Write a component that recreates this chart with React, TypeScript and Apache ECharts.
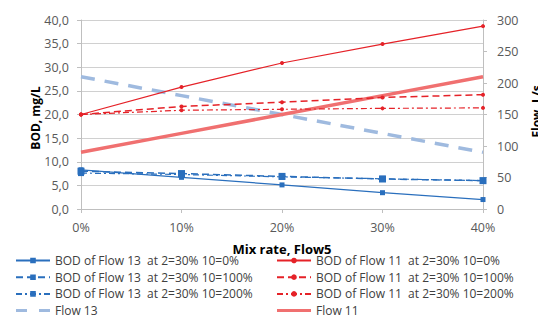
import React, { useEffect, useRef } from "react";
import * as echarts from "echarts";

const categories = ["0%", "10%", "20%", "30%", "40%"];
const bod13_0 = [8.3, 6.7, 5.1, 3.45, 2.0];
const bod13_100 = [8.0, 7.5, 6.9, 6.35, 6.0];
const bod13_200 = [7.6, 7.3, 6.8, 6.4, 6.0];
const flow13 = [210, 180, 150, 120, 90];
const bod11_0 = [20.0, 25.8, 30.9, 34.9, 38.7];
const bod11_100 = [20.0, 21.7, 22.6, 23.6, 24.2];
const bod11_200 = [20.0, 20.9, 21.1, 21.3, 21.4];
const flow11 = [90, 120, 150, 180, 210];

const leftAxisName = "BOD, mg/L";
const rightAxisName = "Flow, L/s";
const xAxisName = "Mix rate, Flow5";

const names = [
  "BOD of Flow 13  at 2=30% 10=0%",
  "BOD of Flow 13  at 2=30% 10=100%",
  "BOD of Flow 13  at 2=30% 10=200%",
  "Flow 13",
  "BOD of Flow 11  at 2=30% 10=0%",
  "BOD of Flow 11  at 2=30% 10=100%",
  "BOD of Flow 11  at 2=30% 10=200%",
  "Flow 11",
];

const BLUE = "#2a6fbd";
const RED = "#e52228";
const LBLUE = "#9fbadf";
const LRED = "#f07070";
const FONT = "'Open Sans', 'Noto Sans', sans-serif";

export default function App() {
  const ref = useRef<HTMLDivElement>(null);
  useEffect(() => {
    document.body.style.margin = "0";
    const chart = echarts.init(ref.current!, null, { renderer: "svg" });
    const legendCommon = {
      orient: "vertical" as const,
      itemWidth: 34,
      itemHeight: 7,
      itemGap: 3.7,
      padding: 0,
      textStyle: { fontFamily: FONT, fontSize: 12, color: "#404040", lineHeight: 13 },
      top: 254,
    };
    chart.setOption({
      animation: false,
      textStyle: { fontFamily: FONT },
      grid: { left: 81, right: 55, top: 20, bottom: 120, containLabel: false, outerBoundsMode: "none" },
      graphic: [
        {
          type: "text",
          x: 35,
          y: 118,
          rotation: Math.PI / 2,
          style: {
            text: leftAxisName,
            fontFamily: FONT,
            fontSize: 12,
            fontWeight: "bold",
            fill: "#000",
            align: "center",
            verticalAlign: "middle",
          },
        },
      ],
      legend: [
        {
          ...legendCommon,
          left: 15,
          data: [
            names[0],
            names[1],
            names[2],
            { name: names[3], icon: "path://M0,0H11V3H0Z M23,0H34V3H23Z" },
          ],
        },
        {
          ...legendCommon,
          left: 276,
          data: [
            names[4],
            names[5],
            names[6],
            { name: names[7], icon: "path://M0,0H34V3H0Z" },
          ],
        },
      ],
      xAxis: {
        type: "category",
        data: categories,
        boundaryGap: false,
        name: xAxisName,
        nameLocation: "middle",
        nameGap: 33,
        nameTextStyle: { fontWeight: "bold", fontSize: 13, color: "#000", fontFamily: FONT },
        axisLine: { lineStyle: { color: "#bfbfbf" } },
        axisTick: { show: true, length: 4, lineStyle: { color: "#bfbfbf" } },
        axisLabel: { color: "#595959", fontSize: 12.5, margin: 12, fontFamily: FONT },
      },
      yAxis: [
        {
          type: "value",
          min: 0,
          max: 40,
          interval: 5,
          axisLine: { show: true, lineStyle: { color: "#bfbfbf" } },
          axisTick: { show: true, length: 4, lineStyle: { color: "#bfbfbf" } },
          axisLabel: {
            color: "#595959",
            fontSize: 12.5,
            margin: 12,
            fontFamily: FONT,
            formatter: (v: number) => v.toFixed(1).replace(".", ","),
          },
          splitLine: { lineStyle: { color: "#d0d0d0" } },
        },
        {
          type: "value",
          min: 0,
          max: 300,
          interval: 50,
          position: "right",
          name: rightAxisName,
          nameLocation: "middle",
          nameGap: 47,
          nameTextStyle: { fontWeight: "bold", fontSize: 12, color: "#000", fontFamily: FONT, padding: [0, 0, 0, 6] },
          axisLine: { show: true, lineStyle: { color: "#bfbfbf" } },
          axisTick: { show: true, length: 4, lineStyle: { color: "#bfbfbf" } },
          axisLabel: { color: "#595959", fontSize: 12.5, margin: 14, fontFamily: FONT },
          splitLine: { show: false },
        },
      ],
      series: [
        {
          name: names[0], type: "line", data: bod13_0, yAxisIndex: 0,
          symbol: "rect", symbolSize: 5, z: 5,
          lineStyle: { color: BLUE, width: 1.2 }, itemStyle: { color: BLUE },
        },
        {
          name: names[1], type: "line", data: bod13_100, yAxisIndex: 0,
          symbol: "rect", symbolSize: 7, z: 5,
          lineStyle: { color: BLUE, width: 1.5, type: [7, 4] }, itemStyle: { color: BLUE },
        },
        {
          name: names[2], type: "line", data: bod13_200, yAxisIndex: 0,
          symbol: "rect", symbolSize: 6, z: 5,
          lineStyle: { color: BLUE, width: 1.2, type: [6, 3, 2, 3] }, itemStyle: { color: BLUE },
        },
        {
          name: names[3], type: "line", data: flow13, yAxisIndex: 1,
          symbol: "none", z: 3,
          lineStyle: { color: LBLUE, width: 3.5, type: [14, 10] }, itemStyle: { color: LBLUE },
        },
        {
          name: names[4], type: "line", data: bod11_0, yAxisIndex: 0,
          symbol: "circle", symbolSize: 4, z: 5,
          lineStyle: { color: RED, width: 1.2 }, itemStyle: { color: RED },
        },
        {
          name: names[5], type: "line", data: bod11_100, yAxisIndex: 0,
          symbol: "circle", symbolSize: 4, z: 5,
          lineStyle: { color: RED, width: 1.5, type: [7, 4] }, itemStyle: { color: RED },
        },
        {
          name: names[6], type: "line", data: bod11_200, yAxisIndex: 0,
          symbol: "circle", symbolSize: 4, z: 5,
          lineStyle: { color: RED, width: 1.2, type: [6, 3, 2, 3] }, itemStyle: { color: RED },
        },
        {
          name: names[7], type: "line", data: flow11, yAxisIndex: 1,
          symbol: "none", z: 3,
          lineStyle: { color: LRED, width: 3.5 }, itemStyle: { color: LRED },
        },
      ],
    });
    return () => chart.dispose();
  }, []);
  return <div ref={ref} style={{ width: 538, height: 329 }} />;
}
